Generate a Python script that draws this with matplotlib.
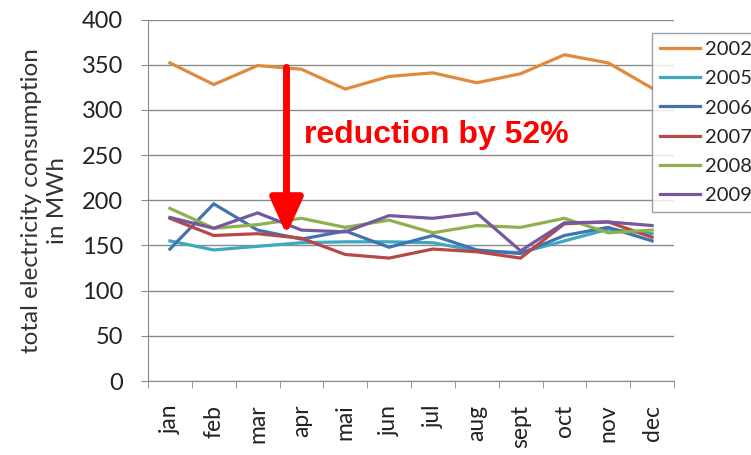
import matplotlib
matplotlib.use("Agg")
import matplotlib.pyplot as plt
import numpy as np

months = ["jan", "feb", "mar", "apr", "mai", "jun", "jul", "aug", "sept", "oct", "nov", "dec"]
years = ["2002", "2005", "2006", "2007", "2008", "2009"]

y2002 = [352, 328, 349, 345, 323, 337, 341, 330, 340, 361, 352, 324]
y2005 = [155, 145, 149, 153, 154, 154, 153, 144, 142, 155, 168, 163]
y2006 = [146, 196, 167, 157, 166, 148, 161, 145, 141, 161, 170, 155]
y2007 = [180, 161, 163, 158, 140, 136, 146, 143, 136, 174, 176, 159]
y2008 = [191, 169, 173, 180, 170, 178, 164, 172, 170, 180, 164, 167]
y2009 = [181, 169, 186, 167, 165, 183, 180, 186, 144, 175, 176, 172]

series = [y2002, y2005, y2006, y2007, y2008, y2009]
colors = ['#E08B3C', '#3FA8C0', '#3F74B0', '#B84845', '#8FB04C', '#7459A0']

plt.rcParams['font.family'] = ['Lato', 'DejaVu Sans']

fig = plt.figure(figsize=(7.51, 4.55), dpi=100)
ax = fig.add_axes([148 / 751, 1 - 381 / 455, 526 / 751, 361.5 / 455])

x = np.arange(len(months))
for vals, lab, c in zip(series, years, colors):
    ax.plot(x, vals, color=c, lw=2.3, label=lab, solid_joinstyle='miter')

ax.set_xlim(-0.5, 11.5)
ax.set_ylim(0, 400)
ax.set_yticks(np.arange(0, 401, 50))
ax.set_xticks(x)
ax.set_xticklabels(months, rotation=90)
ax.set_xticks(np.arange(-0.5, 12, 1), minor=True)

ax.grid(axis='y', color='#8a8a8a', lw=1)
ax.set_axisbelow(True)
for s in ['top', 'right']:
    ax.spines[s].set_visible(False)
for s in ['left', 'bottom']:
    ax.spines[s].set_color('#8a8a8a')

ax.tick_params(axis='y', direction='out', length=5, color='#8a8a8a', pad=13,
               labelsize=17, labelcolor='#222222')
ax.tick_params(axis='x', which='major', length=0, pad=17, labelsize=16.5, labelcolor='#222222')
ax.tick_params(axis='x', which='minor', length=5, color='#8a8a8a')

ax.set_ylabel("total electricity consumption\nin MWh", fontsize=17.5, color='#333333',
              linespacing=1.3)
ax.yaxis.set_label_coords(-0.152, 0.5)

# red arrow and annotation
ax.annotate('', xy=(2.66, 162), xytext=(2.66, 347),
            arrowprops=dict(arrowstyle='-|>,head_length=2.2,head_width=1.0',
                            lw=5, color='red', shrinkA=0, shrinkB=0,
                            mutation_scale=10))
ax.text(3.05, 272, 'reduction by 52%', fontsize=23, fontweight='bold', color='red',
        family='Liberation Sans', va='center', ha='left')

leg = fig.legend(loc='upper left', bbox_to_anchor=(652 / 751, 1 - 33 / 455),
                 fontsize=14.5, frameon=True, fancybox=False, handlelength=2.0,
                 handletextpad=0.25, labelspacing=0.6, borderpad=0.4,
                 borderaxespad=0)
leg.get_frame().set_edgecolor('#8a8a8a')
leg.get_frame().set_linewidth(1)
for t in leg.get_texts():
    t.set_color('#222222')

fig.savefig('out.png', dpi=100, facecolor='white')
